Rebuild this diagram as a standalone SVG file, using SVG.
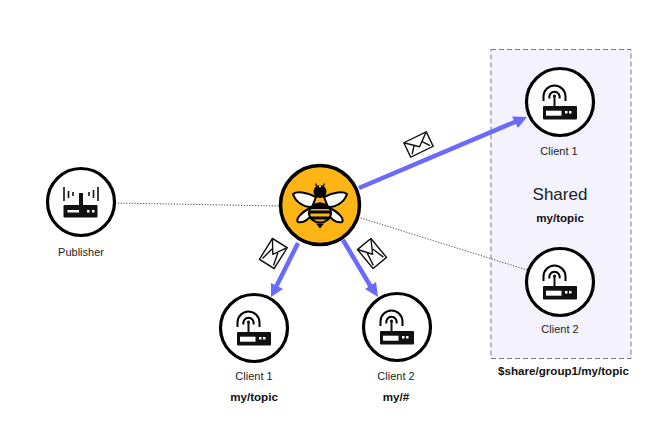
<svg xmlns="http://www.w3.org/2000/svg" width="668" height="426" viewBox="0 0 668 426">
<style>
text{font-family:"Liberation Sans",Arial,sans-serif;fill:#222;text-anchor:middle}
.l{font-size:11px}
.b{font-size:11.6px;font-weight:bold;fill:#111}
.ring{fill:#fff;stroke:#000;stroke-width:3.2}
.arc{fill:none;stroke:#000;stroke-width:2}
.dot{fill:none;stroke:#444;stroke-width:1;stroke-dasharray:1.2 1.6}
.flow{fill:none;stroke:#6a6aff;stroke-width:4.5}
.head{fill:#6a6aff}
.env{fill:#fff;stroke:#111;stroke-width:1.4;stroke-linejoin:round}
.crease{fill:none;stroke:#111;stroke-width:1.4;stroke-linejoin:round}
.wing{fill:#fff;stroke:#000;stroke-width:2}
</style>
<defs>
<g id="router">
<rect x="-17" y="4" width="34" height="13.500" rx="1" fill="#111"/>
<rect x="-14" y="8.700" width="15.500" height="5" fill="#fff"/>
<rect x="5" y="9" width="2.500" height="2.500" fill="#fff"/>
<rect x="9" y="9" width="2.500" height="2.500" fill="#fff"/>
<rect x="-6.500" y="-6" width="2" height="11" fill="#111"/>
<circle cx="-5.500" cy="-6" r="1.600" fill="#111"/>
<path class="arc" d="M-10.500 -3.500A5.200 5.200 0 1 1 -0.500 -3.500"/>
<path class="arc" d="M-16.500 -1V-5.500A11 11 0 0 1 5.500 -5.500V-1"/>
</g>
<g id="env-wide">
<rect class="env" x="-12.500" y="-8" width="25" height="16"/>
<path class="crease" d="M-12.500 -8L0 2.500L12.500 -8M-10 6L-4 -1.500M10 6L4.500 -1"/>
</g>
<g id="env-tall">
<rect class="env" x="-8.700" y="-12.300" width="17.400" height="24.600"/>
<path class="crease" d="M-8.700 -12.300L0 1L8.700 -12.300M-6.500 10L-3.500 -3M6.500 10L3.500 -3"/>
</g>
</defs>
<rect id="shared-box" x="491" y="49.500" width="140" height="309" fill="#f3f2fd" stroke="#77778a" stroke-width="1" stroke-dasharray="5 3"/>
<g id="connectors">
<path class="dot" d="M115 203L280 206"/>
<path class="dot" d="M358 217L527 270"/>
<path class="flow" d="M359 188L516 121.500"/>
<path class="head" d="M527 117L518 128L512 116.500Z"/>
<path class="flow" d="M298 243L276 287"/>
<path class="head" d="M271 297L271 283L283 289Z"/>
<path class="flow" d="M343 240L371 287"/>
<path class="head" d="M378 297L365 289L376 282Z"/>
</g>
<g id="msg1"><use href="#env-wide" transform="translate(418.500 144.500) rotate(-26)"/></g>
<g id="msg2"><use href="#env-tall" transform="translate(273.300 253.500) rotate(32)"/></g>
<g id="msg3"><use href="#env-tall" transform="translate(372 253.500) rotate(-39.500)"/></g>
<g id="publisher">
<circle class="ring" cx="81" cy="202" r="33.500"/>
<rect x="63.500" y="205" width="34" height="12.500" rx="1" fill="#111"/>
<rect x="67.500" y="210" width="11.500" height="2.500" fill="#fff"/>
<rect x="87" y="210" width="2.500" height="2.500" fill="#fff"/>
<rect x="92" y="210" width="2.500" height="2.500" fill="#fff"/>
<rect x="79" y="193" width="4" height="13" fill="#111"/>
<path d="M64 187V201M68.500 191V198M73 192V196M89 192V196M93.500 190V198M98 187V201" stroke="#111" stroke-width="1.600" fill="none"/>
<text class="l" x="81" y="256">Publisher</text>
</g>
<g id="broker">
<circle cx="320" cy="205" r="39.500" fill="#fdb515" stroke="#000" stroke-width="3.500"/>
<path class="wing" d="M316 197C306 192 297 191 293 194C295 201 303 207.500 312 207Z"/>
<path class="wing" d="M324 197C334 192 343 191 347 194C345 201 337 207.500 328 207Z"/>
<path class="wing" d="M310 208C302 212 295 219 298 222C304 223 309 219 312 214Z"/>
<path class="wing" d="M330 208C338 212 345 219 342 222C336 223 331 219 328 214Z"/>
<ellipse cx="320" cy="191.500" rx="6.500" ry="6.500" fill="#000"/>
<path d="M318.500 185.500H321.500L320 188Z" fill="#fff"/>
<ellipse cx="320" cy="213" rx="11" ry="9.500" fill="#fdb515" stroke="#000" stroke-width="2"/>
<path d="M310 210.500H330V213.500H310ZM310.500 216.500H329.500V219.500H310.500Z" fill="#000"/>
<path d="M309 209L320 202L331 209Z" fill="#000"/>
<path d="M316 223.500H324L320 228.500Z" fill="#000"/>
<path d="M316.500 186L315.500 183.500M323.500 186L324.500 183.500" stroke="#000" stroke-width="1.200"/>
</g>
<g id="client-a1">
<circle class="ring" cx="254" cy="328" r="33.500"/>
<use href="#router" x="254" y="328"/>
<text class="l" x="254" y="380">Client 1</text>
<text class="b" x="254" y="401">my/topic</text>
</g>
<g id="client-a2">
<circle class="ring" cx="397" cy="327" r="33.500"/>
<use href="#router" x="397" y="327"/>
<text class="l" x="396" y="380">Client 2</text>
<text class="b" x="396" y="401">my/#</text>
</g>
<g id="client-s1">
<circle class="ring" cx="560" cy="102" r="33.500"/>
<use href="#router" x="560" y="102"/>
<text class="l" x="559" y="155">Client 1</text>
</g>
<g id="client-s2">
<circle class="ring" cx="560" cy="282" r="33.500"/>
<use href="#router" x="560" y="282"/>
<text class="l" x="560" y="333">Client 2</text>
</g>
<text x="560" y="199.500" font-size="17px">Shared</text>
<text class="b" x="560" y="222">my/topic</text>
<text class="b" x="563.500" y="375">$share/group1/my/topic</text>
</svg>
